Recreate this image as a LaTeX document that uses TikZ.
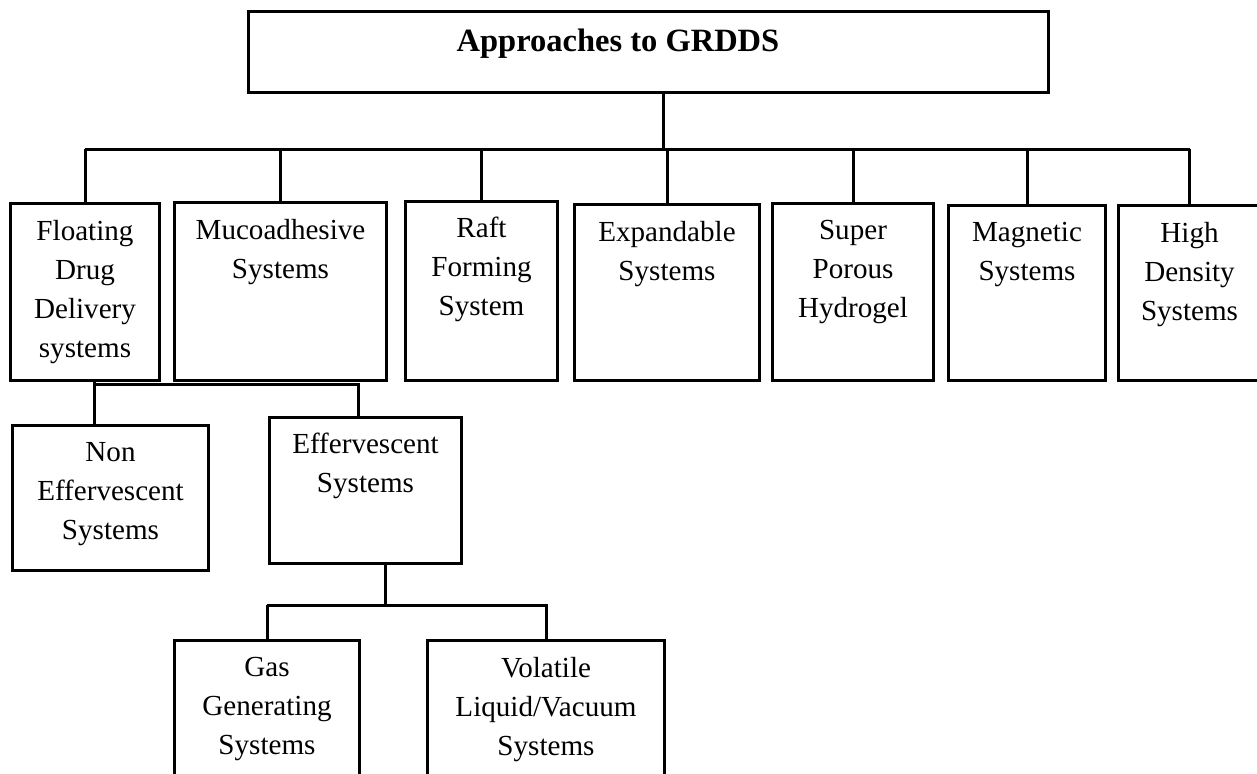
\documentclass[tikz,border=0pt]{standalone}
\usepackage{fontspec}
\setmainfont{Liberation Serif}
\usetikzlibrary{positioning}
\tikzset{
  box/.style = {draw=black, line width=3pt, anchor=north west, inner sep=0pt},
  txt/.style = {align=center, anchor=north, inner sep=0pt, font=\fontsize{29.1}{39}\selectfont},
  ttl/.style = {anchor=base, inner sep=0pt, font=\fontsize{32.5}{39}\selectfont\bfseries},
  link/.style = {draw=black, line width=3pt}
}

\begin{document}
\begin{tikzpicture}[x=1pt,y=-1pt]
\useasboundingbox (0,0) rectangle (1257,773);
\clip (0,0) rectangle (1257,773);

\node [box, minimum width=800pt, minimum height=81pt] (root) at (247,10) {};
\node [ttl] (title) at (618,52) {Approaches to GRDDS};

\node [box, minimum width=149pt, minimum height=177pt] (float) at (9,202) {};
\node [box, minimum width=212pt, minimum height=178pt] (muco) at (173,201) {};
\node [box, minimum width=152pt, minimum height=179pt] (raft) at (404,200) {};
\node [box, minimum width=185pt, minimum height=176pt] (expand) at (573,203) {};
\node [box, minimum width=161pt, minimum height=177pt] (super) at (771,202) {};
\node [box, minimum width=157pt, minimum height=175pt] (magnet) at (947,204) {};
\node [box, minimum width=142pt, minimum height=175pt] (high) at (1117,204) {};

\node [box, minimum width=196pt, minimum height=145pt] (noneff) at (11,424) {};
\node [box, minimum width=192pt, minimum height=146pt] (eff) at (268,416) {};
\node [box, minimum width=185pt, minimum height=200pt] (gas) at (173,639) {};
\node [box, minimum width=237pt, minimum height=200pt] (vol) at (426,639) {};

\node [txt, below=18pt of float.north] (floatT) {Floating\\Drug\\Delivery\\systems};
\node [txt, below=18pt of muco.north] (mucoT) {Mucoadhesive\\Systems};
\node [txt, below=17pt of raft.north] (raftT) {Raft\\Forming\\System};
\node [txt, below=18pt of expand.north] (expandT) {Expandable\\Systems};
\node [txt, below=18pt of super.north] (superT) {Super\\Porous\\Hydrogel};
\node [txt, below=18pt of magnet.north] (magnetT) {Magnetic\\Systems};
\node [txt, below=18pt of high.north] (highT) {High\\Density\\Systems};
\node [txt, below=18pt of noneff.north] (noneffT) {Non\\Effervescent\\Systems};
\node [txt, below=17pt of eff.north] (effT) {Effervescent\\Systems};
\node [txt, below=18pt of gas.north] (gasT) {Gas\\Generating\\Systems};
\node [txt, below=18pt of vol.north] (volT) {Volatile\\Liquid/Vacuum\\Systems};

\coordinate (bus) at (663,149);
\coordinate (fl) at (94,384);
\coordinate (fr) at (358,384);
\coordinate (ebus) at (385,605);

\draw [link] (root.south -| bus) -- (bus);
\draw [link] (float.north |- bus) -- (high.north |- bus);
\foreach \n in {float,muco,raft,expand,super,magnet,high}
  \draw [link] (\n.north |- bus) -- (\n.north);

\draw [link] (float.south -| fl) -- (fl) -- (fr) -- (eff.north -| fr);
\draw [link] (fl) -- (noneff.north -| fl);

\draw [link] (eff.south -| ebus) -- (ebus);
\draw [link] (gas.north |- ebus) -- (gas.north);
\draw [link] (gas.north |- ebus) -- (vol.north |- ebus) -- (vol.north);
\end{tikzpicture}
\end{document}
